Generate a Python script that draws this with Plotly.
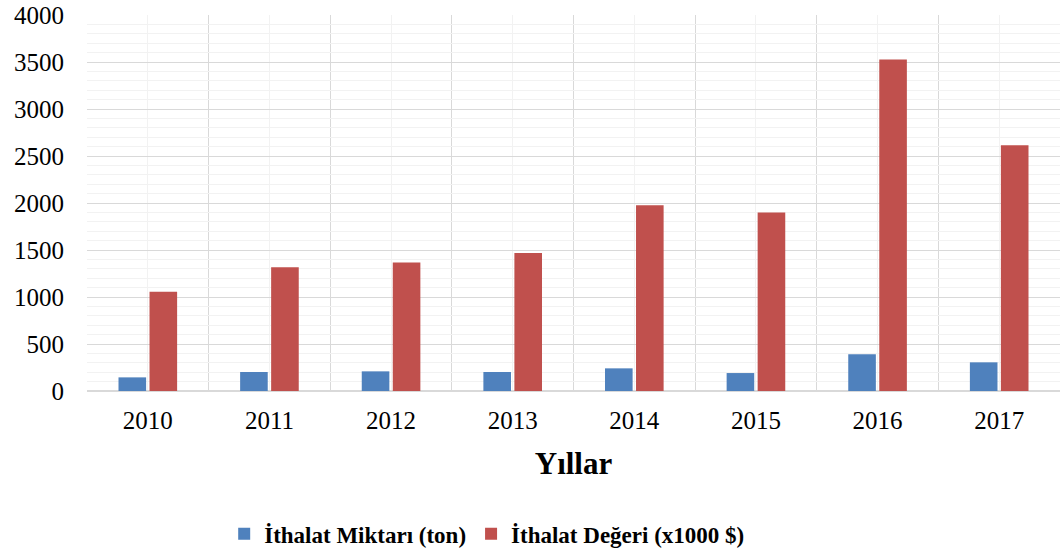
import plotly.graph_objects as go

years = ["2010", "2011", "2012", "2013", "2014", "2015", "2016", "2017"]
miktar = [145, 202, 209, 202, 241, 191, 390, 305]
deger = [1057, 1316, 1366, 1468, 1975, 1898, 3526, 2614]
series_names = ["İthalat Miktarı (ton)", "İthalat Değeri (x1000 $)"]
y_ticks = [0, 500, 1000, 1500, 2000, 2500, 3000, 3500, 4000]

xpos = list(range(len(years)))
FONT = "Liberation Serif, Times New Roman, serif"

fig = go.Figure()
fig.add_trace(go.Bar(x=xpos, y=miktar, name=series_names[0],
                     marker=dict(color="#4F81BD", line=dict(width=0))))
fig.add_trace(go.Bar(x=xpos, y=deger, name=series_names[1],
                     marker=dict(color="#C0504D", line=dict(width=0))))

fig.update_layout(
    width=1060, height=557,
    margin=dict(l=87, r=0, t=15, b=166, autoexpand=False),
    paper_bgcolor="white", plot_bgcolor="white",
    barmode="group", bargap=0.49, bargroupgap=0.11,
    font=dict(family=FONT, size=25, color="black"),
    showlegend=True,
    legend=dict(orientation="h", x=0.141, xanchor="left", y=-0.38, yanchor="middle",
                font=dict(family=FONT, size=23, color="black", weight="bold"),
                itemwidth=30,
                bgcolor="rgba(0,0,0,0)"),
)

fig.update_xaxes(
    type="linear", range=[-0.5, len(years) - 0.5], automargin=False,
    tickmode="array", tickvals=xpos, ticktext=years,
    showgrid=True, gridcolor="#F2F2F2", gridwidth=1,
    minor=dict(tick0=-0.5, dtick=1, showgrid=True, gridcolor="#D9D9D9", gridwidth=1.3),
    zeroline=False, showline=False, ticks="",
    ticklabelstandoff=12, ticklabeloverflow="allow",
    tickfont=dict(family=FONT, size=25, color="black"),
    title=dict(text="Yıllar", standoff=19,
               font=dict(family=FONT, size=31, color="black", weight="bold")),
)
fig.update_yaxes(
    range=[0, 4000], tickmode="array", tickvals=y_ticks, automargin=False,
    showgrid=True, gridcolor="#D9D9D9", gridwidth=1.3,
    minor=dict(dtick=100, showgrid=True, gridcolor="#F2F2F2", gridwidth=1),
    zeroline=True, zerolinecolor="#D9D9D9", zerolinewidth=1.5,
    showline=False, ticks="",
    ticklabelstandoff=22, ticklabeloverflow="allow",
    tickfont=dict(family=FONT, size=25, color="black"),
)

fig.write_html("out.html",
               config={"displayModeBar": False},
               post_script="document.body.style.margin='0px';document.body.style.overflow='hidden';")
